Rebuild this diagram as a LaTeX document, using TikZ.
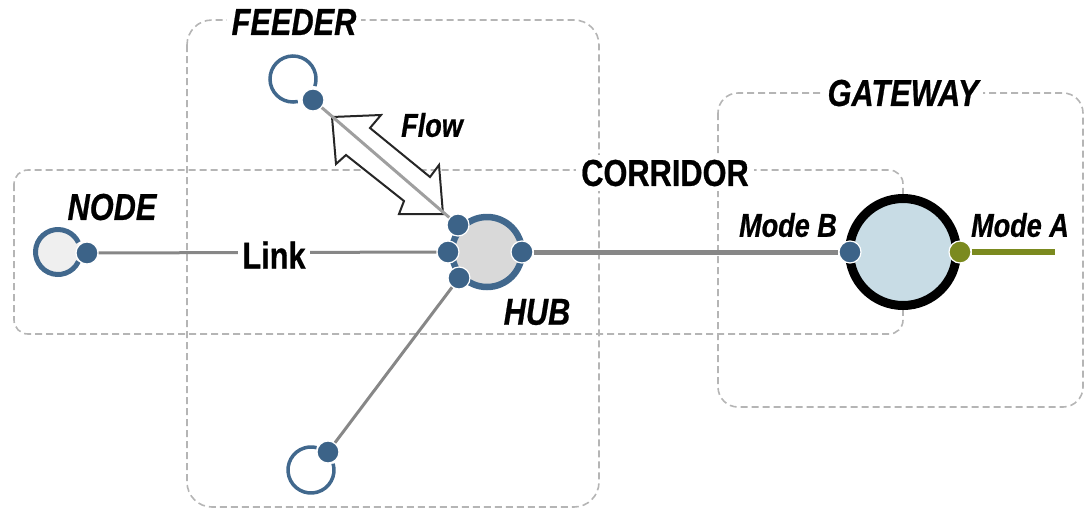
\documentclass[tikz,border=0pt]{standalone}
\usepackage{fontspec}
\setmainfont[FakeStretch=0.82,
  BoldFeatures={FakeBold=0.6},
  BoldItalicFeatures={FakeBold=0.6}]{Liberation Sans}
\definecolor{zonegray}{HTML}{B5B5B5}
\definecolor{portblue}{HTML}{3C6388}
\definecolor{ringblue}{HTML}{41688D}
\definecolor{nodefill}{HTML}{EFEFEF}
\definecolor{hubfill}{HTML}{D9D9D9}
\definecolor{gatefill}{HTML}{C8DCE5}
\definecolor{olive}{HTML}{7B8A1F}
\definecolor{linkgray}{HTML}{878787}
\begin{document}
\begin{tikzpicture}[x=1pt,y=-1pt,
  zone/.style={draw=zonegray, line width=1.6, dash pattern=on 7pt off 4pt, rounded corners=#1},
  ttl/.style={font=\fontsize{37.5}{40}\selectfont\bfseries\itshape, inner sep=5},
  ttlup/.style={font=\fontsize{37.5}{40}\selectfont\bfseries, inner sep=5},
  small/.style={font=\fontsize{33}{36}\selectfont\bfseries\itshape, inner sep=2},
  portdot/.style={circle, fill=portblue, draw=white, line width=1.2, minimum size=22, inner sep=0},
  oliveport/.style={circle, fill=olive, draw=white, line width=1.2, minimum size=22, inner sep=0},
  link/.style={draw=linkgray, line width=3},
  trunk/.style={draw=linkgray, line width=5},
  ringthin/.style={draw=ringblue, line width=3.5},
  flowarrow/.style={draw=black!85, line width=2, fill=white, line join=miter},
]
\useasboundingbox (0,0) rectangle (1086,509);

% zones
\draw[zone=25] (187,20) rectangle (599,507);
\draw[zone=14] (14,170) rectangle (903,334);
\draw[zone=20] (718,93) rectangle (1083,407);
\node[ttl, fill=white] (feederlbl) at (294,22) {FEEDER};
\node[ttlup, fill=white] (corrlbl) at (665,173) {CORRIDOR};
\node[ttl, fill=white] (gatelbl) at (903,93) {GATEWAY};

% centres
\coordinate (nodec) at (58,252);
\coordinate (hubc) at (487,252);
\coordinate (gatec) at (903,252);
\coordinate (topc) at (293,79);
\coordinate (botc) at (311,470);

% flow arrow (double headed, hollow)
\draw[flowarrow]
  (332,117) -- (381,115) -- (370,128) -- (430,177) -- (439,165)
  -- (443,214) -- (399,214) -- (404,201) -- (346,155) -- (336,164) -- cycle;

% satellite rings
\fill[nodefill] (nodec) circle (22);
\draw[draw=ringblue, line width=5] (nodec) ++(25:22.5) arc (25:335:22.5);
\draw[ringthin] (topc) ++(78:23) arc (78:378:23);
\draw[ringthin] (botc) ++(-16:23) arc (-16:284:23);

% hub
\fill[hubfill] (hubc) circle (32);
\draw[draw=ringblue, line width=6.5] (hubc) circle (35);

% gateway
\fill[gatefill] (gatec) circle (52);
\draw[black, line width=9] (gatec) circle (53.5);

% ports
\node[portdot] (np) at (87,253) {};
\node[portdot] (tp) at (313,100) {};
\node[portdot] (bp) at (328,452) {};
\node[portdot] (htl) at (458,225) {};
\node[portdot] (hl) at (448,252) {};
\node[portdot] (hbl) at (459,278) {};
\node[portdot] (hr) at (522,252) {};
\node[portdot] (mb) at (850,252) {};
\node[oliveport] (ma) at (960,252) {};
\coordinate (aend) at (1055,252);

% connectors
\draw[link] (np) -- (hl);
\draw[link, draw=linkgray!80] (tp) -- (htl);
\draw[link] (bp) -- (hbl);
\draw[trunk] (hr) -- (mb);
\draw[draw=olive, line width=6] (ma) -- (aend);

% labels
\node[ttlup, fill=white, inner sep=4] (linklbl) at (274,255) {Link};
\node[ttl] (nodelbl) at (112,207) {NODE};
\node[ttl] (hublbl) at (537,312) {HUB};
\node[small] (flowlbl) at (432,125) {Flow};
\node[small] (mblbl) at (788,225) {Mode B};
\node[small] (malbl) at (1020,225) {Mode A};
\end{tikzpicture}
\end{document}
